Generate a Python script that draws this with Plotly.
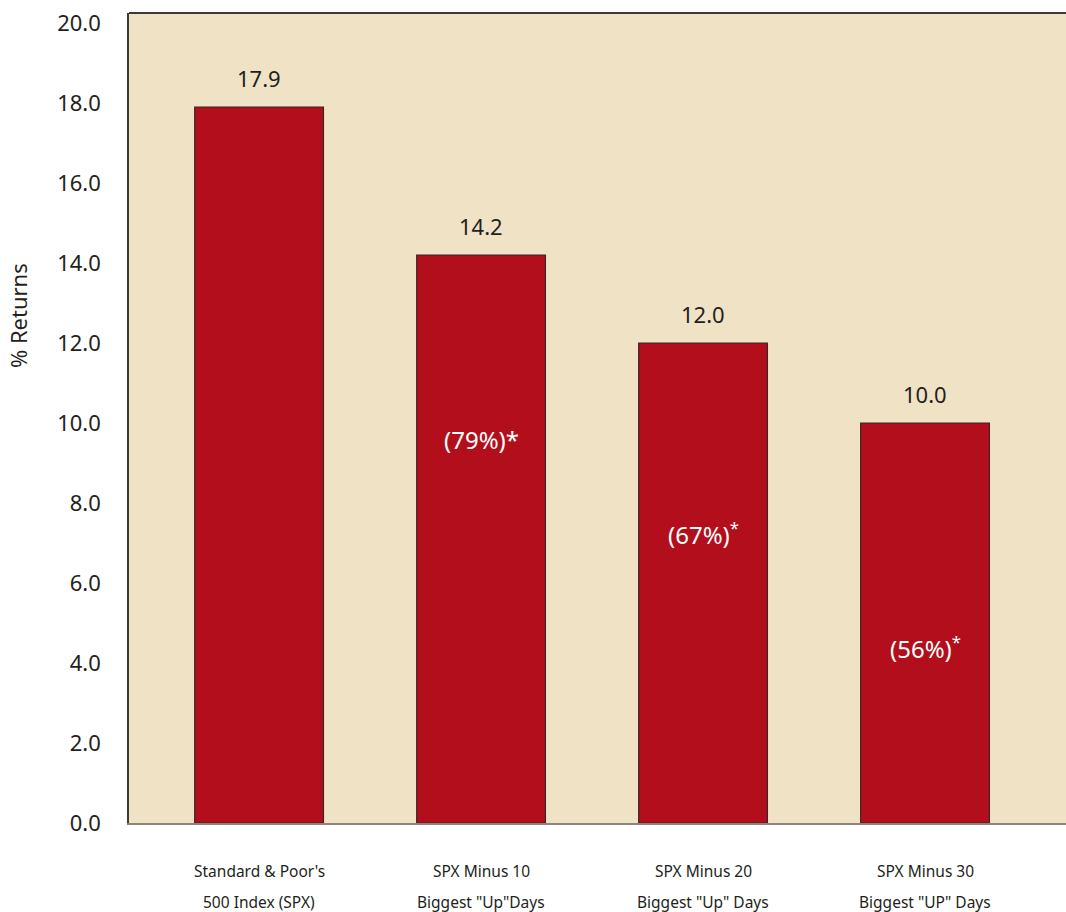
import plotly.graph_objects as go

categories = ["SPX", "SPX-10", "SPX-20", "SPX-30"]
label_line1 = ["Standard & Poor's", "SPX Minus 10", "SPX Minus 20", "SPX Minus 30"]
label_line2 = ["500 Index (SPX)", 'Biggest "Up"Days', 'Biggest "Up" Days', 'Biggest "UP" Days']
returns = [17.9, 14.2, 12.0, 10.0]
value_text = ["17.9", "14.2", "12.0", "10.0"]
share_text = ["", "(79%)*", "(67%)<sup>*</sup>", "(56%)<sup>*</sup>"]
share_label_y = [None, 9.6, 7.25, 4.4]
y_ticks = [0, 2, 4, 6, 8, 10, 12, 14, 16, 18, 20]

BAR = "#B30E1B"
BG = "#F0E2C5"
TXT = "#231F20"
FONT = "Noto Sans"

fig = go.Figure()
fig.add_trace(go.Bar(
    x=categories, y=returns,
    marker=dict(color=BAR, line=dict(color="#3A2626", width=1.2)),
    width=0.58, hoverinfo="skip",
))

ann = []
for c, v, t in zip(categories, returns, value_text):
    ann.append(dict(x=c, y=v, text=t, showarrow=False, yshift=29,
                    font=dict(size=22, color=TXT, family=FONT)))
for c, t, yy in zip(categories, share_text, share_label_y):
    if t:
        ann.append(dict(x=c, y=yy, text=t, showarrow=False,
                        font=dict(size=24, color="white", family=FONT)))
for c, l1, l2 in zip(categories, label_line1, label_line2):
    ann.append(dict(x=c, y=0, yref="paper", text=l1, showarrow=False, yshift=-61,
                    font=dict(size=15.5, color=TXT, family=FONT)))
    ann.append(dict(x=c, y=0, yref="paper", text=l2, showarrow=False, yshift=-92,
                    font=dict(size=15.5, color=TXT, family=FONT)))
ann.append(dict(xref="paper", yref="paper", x=-0.1185, y=0.627, text="% Returns",
                textangle=-90, showarrow=False, xanchor="center", yanchor="middle",
                font=dict(size=22, color=TXT, family=FONT)))

fig.update_layout(
    width=1066, height=912,
    margin=dict(l=129, r=0, t=13, b=89),
    paper_bgcolor="white", plot_bgcolor=BG,
    showlegend=False,
    font=dict(family=FONT, color=TXT),
    annotations=ann,
    shapes=[dict(type="line", xref="paper", yref="paper", x0=0, x1=1, y0=1, y1=1,
                 line=dict(color="#3A3A3A", width=2))],
    xaxis=dict(range=[-0.586, 3.635], showticklabels=False, showgrid=False,
               showline=True, linecolor="#8C8578", linewidth=2, zeroline=False, ticks=""),
    yaxis=dict(range=[0, 20.25], tickvals=y_ticks,
               ticktext=[f"{v:.1f}" for v in y_ticks],
               tickfont=dict(size=22, color=TXT, family=FONT),
               showgrid=False, zeroline=False, showline=True, linecolor="#3A3A3A",
               linewidth=1.5, ticks="", ticklabelstandoff=22),
)

fig.write_html("out.html")
